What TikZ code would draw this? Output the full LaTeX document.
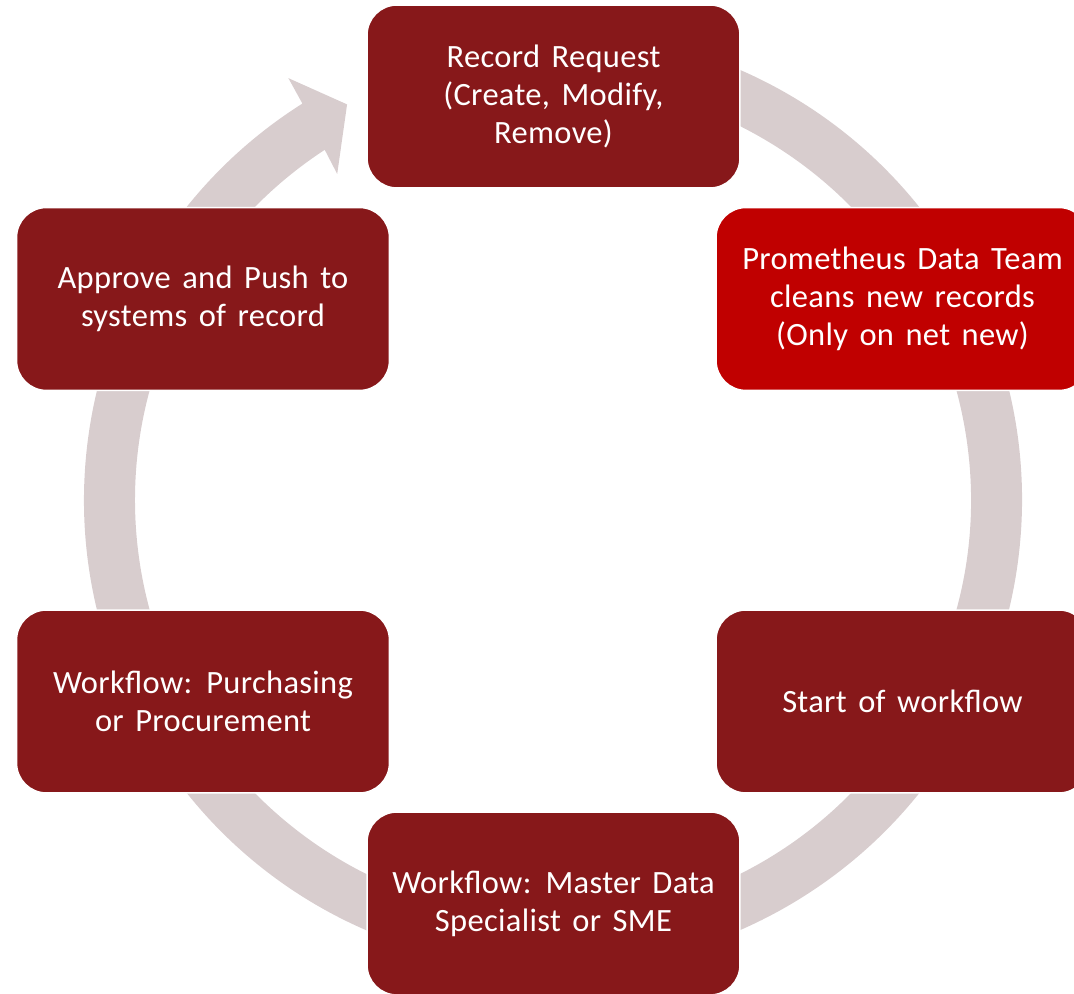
\documentclass[tikz,border=0pt]{standalone}
\usepackage{fontspec}
\setmainfont{Carlito}[WordSpace=1.5, LetterSpace=1]
\definecolor{boxred}{RGB}{135,24,26}
\definecolor{teamred}{RGB}{192,0,0}
\definecolor{ringgray}{RGB}{216,205,206}
\tikzset{
  stepbox/.style={rectangle, rounded corners=0.6cm, fill=boxred, draw=white,
    line width=0.03cm, minimum width=7.46cm, minimum height=3.66cm,
    text=white, align=center, font=\fontsize{18.5}{21.8}\selectfont},
}
\begin{document}
\begin{tikzpicture}[x=0.02cm, y=0.02cm]
                \useasboundingbox (0, 0) rectangle (1074, 993);
                % ring with arrow head
                \begin{scope}[shift={(553, 493)}]
                    \fill[ringgray] (122.3:469) arc[start angle=122.3, end angle=460, radius=469]
                        -- (460:418) arc[start angle=460, end angle=123.1, radius=418]
                        -- (123.5:391) -- (117.5:446) -- (122.1:498) -- cycle;
                \end{scope}
                % steps
                \node[stepbox] (rec) at (553.5, 896.5) {Record Request\\(Create, Modify,\\Remove)};
                \node[stepbox, fill=teamred] (clean) at (902.5, 694) {Prometheus Data Team\\cleans new records\\(Only on net new)};
                \node[stepbox] (start) at (902.5, 291.5) {Start of workflow};
                \node[stepbox] (sme) at (553.5, 89.5) {Workflow: Master Data\\Specialist or SME};
                \node[stepbox] (purch) at (203, 291.5) {Workflow: Purchasing\\or Procurement};
                \node[stepbox] (approve) at (203, 694) {Approve and Push to\\systems of record};
\end{tikzpicture}
\end{document}
